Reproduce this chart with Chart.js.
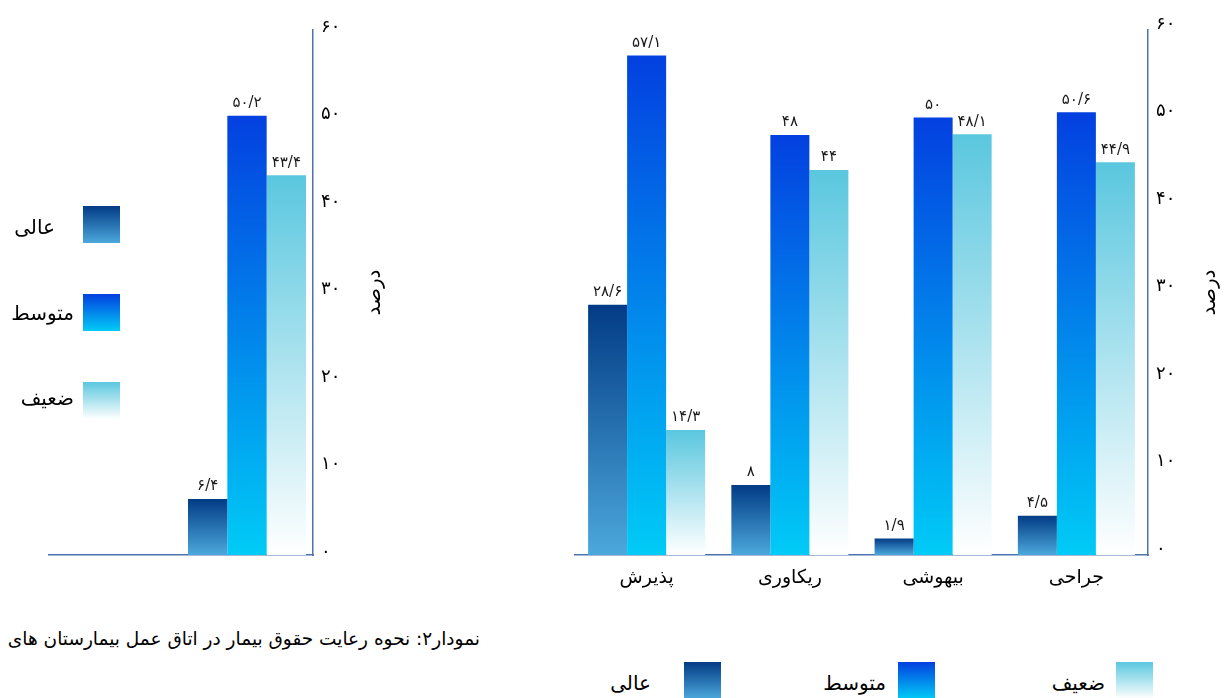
<!DOCTYPE html>
<html lang="fa">
<head>
<meta charset="utf-8">
<title>نمودار۲</title>
<script src="https://cdn.jsdelivr.net/npm/chart.js@4.4.1/dist/chart.umd.min.js"></script>
<style>
  html, body { margin: 0; padding: 0; background: #fff; }
  body { width: 1230px; height: 698px; position: relative; overflow: hidden;
         font-family: "DejaVu Sans", sans-serif; color: #000; }
  #overallBox { position: absolute; left: 0; top: 0; width: 400px; height: 600px; }
  #sectionBox { position: absolute; left: 560px; top: 0; width: 670px; height: 600px; }
  .caption { position: absolute; right: 750px; top: 628px; font-size: 18.5px;
             direction: rtl; white-space: nowrap; }
  .swatch { position: absolute; width: 37px; height: 37px; }
  .key { position: absolute; font-size: 20px; direction: rtl; white-space: nowrap;
         transform: translateY(-50%); }
</style>
</head>
<body>
<div id="overallBox"><canvas id="overallChart" width="400" height="600"></canvas></div>
<div id="sectionBox"><canvas id="sectionChart" width="670" height="600"></canvas></div>
<div class="caption">نمودار۲: نحوه رعایت حقوق بیمار در اتاق عمل بیمارستان های</div>

<script>
// ---- data ----
// series in drawing order inside each group (left to right)
const seriesNames = ['عالی', 'متوسط', 'ضعیف'];

// wards, listed right to left
const wardLabels = ['جراحی', 'بیهوشی', 'ریکاوری', 'پذیرش'];
const wardExcellent = [4.5, 1.9, 8, 28.6];
const wardMedium = [50.6, 50, 48, 57.1];
const wardWeak = [44.9, 48.1, 44, 14.3];

// overall group (second slot left empty)
const overallLabels = ['', ''];
const overallExcellent = [6.4, null];
const overallMedium = [50.2, null];
const overallWeak = [43.4, null];

const yAxisTitle = 'درصد';
const yMin = 0, yMax = 60, yStep = 10;

// ---- styles ----
const fillStops = {
  'ضعیف':  ['#5ac7df', '#ffffff'],
  'متوسط': ['#0340e0', '#00cbf6'],
  'عالی':  ['#023b85', '#4ca8dc']
};
const axisColor = '#4e72ad';
const fontFamily = '"DejaVu Sans", sans-serif';

const persianDigits = '۰۱۲۳۴۵۶۷۸۹';
function toPersian(v) {
  return String(v).replace('.', '/').replace(/[0-9]/g, d => persianDigits[+d]);
}

// vertical gradient spanning each bar from its top to the zero line
function barFill(stops) {
  return (ctx) => {
    const chart = ctx.chart;
    if (!chart.chartArea || ctx.type !== 'data' || !ctx.parsed || ctx.parsed.y == null) return stops[0];
    const y = chart.scales.y;
    const top = y.getPixelForValue(ctx.parsed.y);
    const base = y.getPixelForValue(0);
    if (!isFinite(top) || Math.abs(base - top) < 1) return stops[0];
    const g = chart.ctx.createLinearGradient(0, top, 0, base);
    g.addColorStop(0, stops[0]);
    g.addColorStop(1, stops[1]);
    return g;
  };
}

// value printed above every bar
const valueLabels = {
  id: 'valueLabels',
  afterDatasetsDraw(chart) {
    const c = chart.ctx;
    c.save();
    c.font = '15px ' + fontFamily;
    c.fillStyle = '#1a1a1a';
    c.textAlign = 'center';
    c.textBaseline = 'bottom';
    c.direction = 'ltr';
    chart.data.datasets.forEach((ds, i) => {
      chart.getDatasetMeta(i).data.forEach((bar, j) => {
        const v = ds.data[j];
        if (v == null) return;
        c.fillText(toPersian(v), bar.x, bar.y - 5);
      });
    });
    c.restore();
  }
};

// rotated axis title beside the right-hand value axis
const sideTitle = {
  id: 'sideTitle',
  afterDraw(chart, args, opts) {
    const s = chart.scales.y;
    const c = chart.ctx;
    c.save();
    c.translate(s.left + opts.offset, (s.top + s.bottom) / 2);
    c.rotate(-Math.PI / 2);
    c.font = '20px ' + fontFamily;
    c.fillStyle = '#000';
    c.textAlign = 'center';
    c.textBaseline = 'middle';
    c.fillText(opts.text, 0, 0);
    c.restore();
  }
};

function buildDatasets(excellent, medium, weak) {
  return [excellent, medium, weak].map((values, i) => ({
    label: seriesNames[i],
    data: values,
    backgroundColor: barFill(fillStops[seriesNames[i]]),
    borderWidth: 0
  }));
}

function buildOptions(cfg) {
  return {
    responsive: false,
    animation: false,
    devicePixelRatio: 1,
    layout: { padding: { left: cfg.padLeft, top: 30, right: 0, bottom: 0 } },
    datasets: { bar: { categoryPercentage: cfg.catPct, barPercentage: 1 } },
    plugins: {
      legend: { display: false },
      tooltip: { enabled: false },
      sideTitle: { text: yAxisTitle, offset: 62 }
    },
    scales: {
      x: {
        reverse: true,
        grid: { display: false, drawTicks: false },
        border: { display: true, color: axisColor, width: 1.5 },
        ticks: { display: cfg.showX, color: '#000', padding: 12,
                 font: { family: fontFamily, size: 19 } },
        afterFit: (s) => { s.height = 45; }
      },
      y: {
        position: 'right',
        min: yMin, max: yMax,
        grid: { display: false, drawTicks: false },
        border: { display: true, color: axisColor, width: 1.5 },
        ticks: { stepSize: yStep, padding: 8, color: '#000', labelOffset: cfg.tickShift,
                 font: { family: fontFamily, size: 18 },
                 callback: (v) => toPersian(v) },
        afterFit: (s) => { s.width = cfg.axisWidth; }
      }
    }
  };
}

new Chart(document.getElementById('overallChart'), {
  type: 'bar',
  data: { labels: overallLabels, datasets: buildDatasets(overallExcellent, overallMedium, overallWeak) },
  options: buildOptions({ padLeft: 49, axisWidth: 87, catPct: 0.894, showX: false, tickShift: -3 }),
  plugins: [valueLabels, sideTitle]
});

new Chart(document.getElementById('sectionChart'), {
  type: 'bar',
  data: { labels: wardLabels, datasets: buildDatasets(wardExcellent, wardMedium, wardWeak) },
  options: buildOptions({ padLeft: 15, axisWidth: 82, catPct: 0.817, showX: true, tickShift: -6 }),
  plugins: [valueLabels, sideTitle]
});

// ---- legends ----
function swatchCss(name) {
  const s = fillStops[name];
  return 'linear-gradient(to bottom, ' + s[0] + ', ' + s[1] + ')';
}
function addKey(name, boxLeft, boxTop, textRight, textMid) {
  const sw = document.createElement('div');
  sw.className = 'swatch';
  sw.style.left = boxLeft + 'px';
  sw.style.top = boxTop + 'px';
  sw.style.background = swatchCss(name);
  document.body.appendChild(sw);
  const t = document.createElement('div');
  t.className = 'key';
  t.textContent = name;
  t.style.right = (1230 - textRight) + 'px';
  t.style.top = textMid + 'px';
  document.body.appendChild(t);
}

// side legend, top to bottom
const sideKeyLayout = [
  { name: 'عالی',  box: [83, 206], text: [55, 227] },
  { name: 'متوسط', box: [83, 294], text: [74, 313] },
  { name: 'ضعیف',  box: [83, 382], text: [74, 398] }
];
// bottom legend, right to left
const bottomKeyLayout = [
  { name: 'ضعیف',  box: [1116, 662], text: [1105, 683] },
  { name: 'متوسط', box: [898, 662],  text: [886, 683] },
  { name: 'عالی',  box: [684, 662],  text: [651, 683] }
];
sideKeyLayout.concat(bottomKeyLayout).forEach(k => addKey(k.name, k.box[0], k.box[1], k.text[0], k.text[1]));
</script>
</body>
</html>
